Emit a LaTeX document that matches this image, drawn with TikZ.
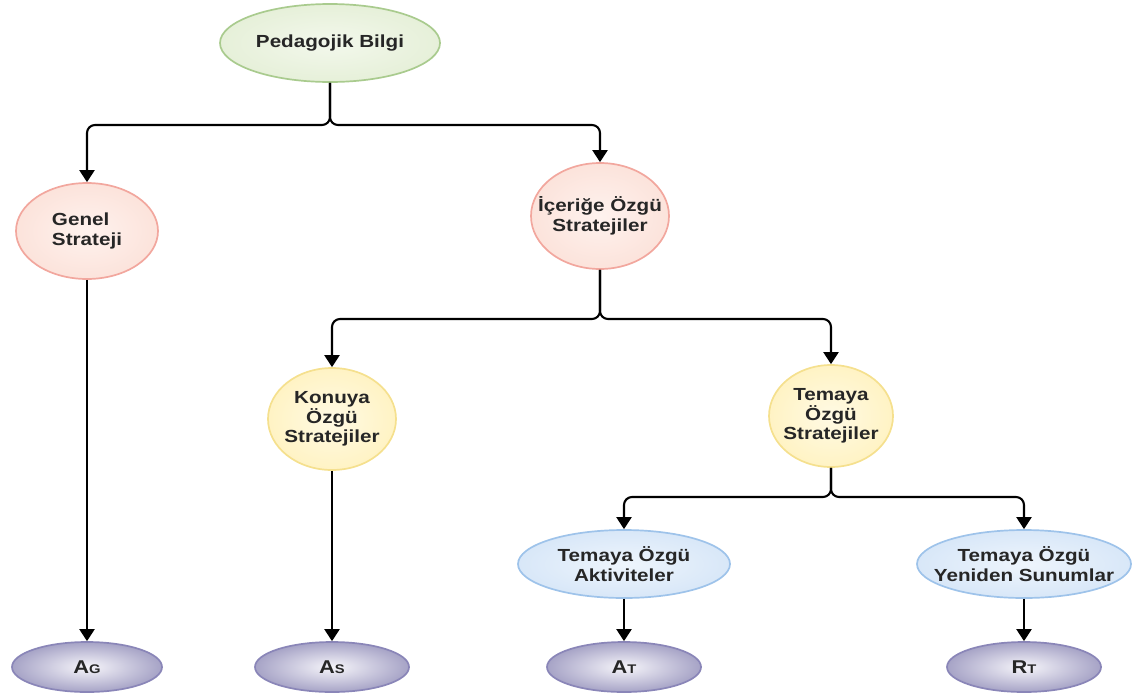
\documentclass[tikz,border=0pt]{standalone}
\usepackage{fontspec}
\setmainfont{Liberation Sans}[FakeStretch=1.18]
\usetikzlibrary{arrows.meta,shapes.geometric}

\definecolor{grnline}{HTML}{A9CB8E}
\definecolor{grnfill}{HTML}{E6F0D9}
\definecolor{grnin}{HTML}{F3F8EC}
\definecolor{pnkline}{HTML}{F2A79E}
\definecolor{pnkfill}{HTML}{FCE3DB}
\definecolor{pnkin}{HTML}{FEF2EE}
\definecolor{ylwline}{HTML}{F5E08E}
\definecolor{ylwfill}{HTML}{FFF3C4}
\definecolor{ylwin}{HTML}{FFFAE4}
\definecolor{bluline}{HTML}{9EC3EA}
\definecolor{blufill}{HTML}{D8E7F8}
\definecolor{bluin}{HTML}{EEF5FC}
\definecolor{purline}{HTML}{8A86B8}
\definecolor{purfill}{HTML}{A6A3C6}
\definecolor{purin}{HTML}{F6F5FA}
\definecolor{txtcol}{HTML}{262626}

\newcommand\dtxt{\bfseries\fontsize{17.5}{19.5}\selectfont}
\newcommand\bigA[2]{{\bfseries\fontsize{18.5}{21}\selectfont #1\fontsize{12.5}{15}\selectfont #2}}

\begin{document}
\begin{tikzpicture}[x=1pt,y=-1pt,
  bub/.style n args={3}{ellipse, draw=#1, inner color=#3, outer color=#2,
    line width=1.7pt, inner sep=0pt},
  green/.style={bub={grnline}{grnfill}{grnin}},
  pink/.style={bub={pnkline}{pnkfill}{pnkin}},
  yellow/.style={bub={ylwline}{ylwfill}{ylwin}},
  blue/.style={bub={bluline}{blufill}{bluin}},
  purple/.style={bub={purline}{purfill}{purin}},
  txt/.style={text=txtcol, font=\dtxt, align=center, inner sep=0pt},
  conn/.style={draw=black, line width=2.1pt, rounded corners=8pt,
    -{Triangle[width=15pt,length=12pt]}},
  feed/.style={draw=black, line width=2.1pt, -{Triangle[width=15pt,length=12pt]}}
]
\useasboundingbox (0,0) rectangle (1132,697);

% knowledge hierarchy
\node[green, minimum width=220, minimum height=78,
  label={[txt]center:Pedagojik Bilgi}] (ped) at (330,43) {};
\node[pink, minimum width=142, minimum height=96,
  label={[txt, align=left]center:Genel\\Strateji}] (genel) at (87,231) {};
\node[pink, minimum width=138, minimum height=106,
  label={[txt]center:İçeriğe Özgü\\Stratejiler}] (icer) at (600,216) {};
\node[yellow, minimum width=128, minimum height=102,
  label={[txt]center:Konuya\\Özgü\\Stratejiler}] (konu) at (332,419) {};
\node[yellow, minimum width=124, minimum height=102,
  label={[txt]center:Temaya\\Özgü\\Stratejiler}] (tema) at (831,416) {};
\node[blue, minimum width=212, minimum height=68,
  label={[txt]center:Temaya Özgü\\Aktiviteler}] (akt) at (624,564) {};
\node[blue, minimum width=214, minimum height=68,
  label={[txt]center:Temaya Özgü\\Yeniden Sunumlar}] (yen) at (1024,564) {};

% outcomes
\node[purple, minimum width=150, minimum height=50,
  label={[txt]center:\bigA{A}{G}}] (ag) at (87,667) {};
\node[purple, minimum width=154, minimum height=50,
  label={[txt]center:\bigA{A}{S}}] (as) at (332,667) {};
\node[purple, minimum width=154, minimum height=50,
  label={[txt]center:\bigA{A}{T}}] (at) at (624,667) {};
\node[purple, minimum width=154, minimum height=50,
  label={[txt]center:\bigA{R}{T}}] (rt) at (1024,667) {};

% branch points
\coordinate (s1) at (330,125);
\coordinate (s2) at (600,319);
\coordinate (s3) at (831,497);

\draw[conn] (ped.south) -- (s1) -| (genel.north);
\draw[conn] (ped.south) -- (s1) -| (icer.north);
\draw[conn] (icer.south) -- (s2) -| (konu.north);
\draw[conn] (icer.south) -- (s2) -| (tema.north);
\draw[conn] (tema.south) -- (s3) -| (akt.north);
\draw[conn] (tema.south) -- (s3) -| (yen.north);

\draw[feed] (genel.south) -- (ag.north);
\draw[feed] (konu.south) -- (as.north);
\draw[feed] (akt.south) -- (at.north);
\draw[feed] (yen.south) -- (rt.north);
\end{tikzpicture}
\end{document}
